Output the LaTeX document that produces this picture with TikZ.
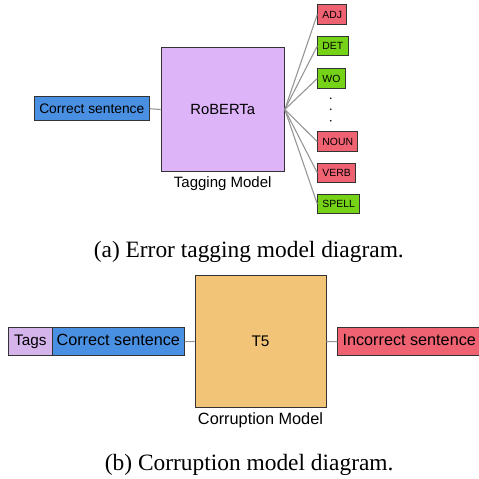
\documentclass[tikz,border=0pt]{standalone}
\usepackage{fontspec}
\setmainfont{Liberation Serif}
\setsansfont{Liberation Sans}

\definecolor{boxblue}{RGB}{74,144,226}
\definecolor{boxpurple}{RGB}{221,180,248}
\definecolor{tagspurple}{RGB}{213,180,236}
\definecolor{boxorange}{RGB}{242,196,120}
\definecolor{tagred}{RGB}{238,98,114}
\definecolor{taggreen}{RGB}{118,210,22}
\definecolor{edgegray}{RGB}{51,51,51}
\definecolor{linkgray}{RGB}{150,150,150}

\tikzset{every picture/.style={line width=0.9pt}}
\tikzset{
  box/.style={draw=edgegray, inner sep=0pt, font=\sffamily},
  sentbox/.style={box, minimum height=28pt, text height=0.72em, text depth=0em},
  tagbox/.style={draw=edgegray, anchor=west, inner xsep=4.7pt, inner ysep=0pt,
    minimum height=19.6pt, font=\sffamily\fontsize{10.4}{12}\selectfont},
  lbl/.style={font=\sffamily\fontsize{15}{18}\selectfont},
  link/.style={draw=linkgray, line width=1.1pt},
  capt/.style={font=\fontsize{23.4}{28}\selectfont}
}

\begin{document}
\begin{tikzpicture}[x=1pt,y=1pt,yscale=-1,xscale=1]
\useasboundingbox (0,0) rectangle (479,479);

% (a) tagging model
\node [box, fill=boxblue, minimum width=115pt, minimum height=24pt,
  font=\sffamily\fontsize{13.8}{16}\selectfont] (cs1) at (91.8,108.7) {Correct sentence};
\node [box, fill=boxpurple, minimum width=123.3pt, minimum height=124.4pt,
  font=\sffamily\fontsize{14.8}{18}\selectfont] (roberta) at (222.7,109.5) {RoBERTa};
\node [lbl] (tagging) at (222.7,183.3) {Tagging Model};

% Tags
\node [tagbox, fill=tagred] (adj) at (317.3,14.5) {ADJ};
\node [tagbox, fill=taggreen] (det) at (317.3,46) {DET};
\node [tagbox, fill=taggreen] (wo) at (317.3,78.5) {WO};
\node [tagbox, fill=tagred] (noun) at (317.3,141.7) {NOUN};
\node [tagbox, fill=tagred] (verb) at (317.3,172.8) {VERB};
\node [tagbox, fill=taggreen] (spell) at (317.3,204) {SPELL};
\foreach \y in {98.3,109.3,120.7}
  \fill (330.7,\y) circle [radius=0.9];

% Connections
\draw [link] (cs1.east) -- (roberta.west);
\foreach \t in {adj,det,wo,noun,verb,spell}
  \draw [link] (roberta.east) -- (\t.west);

\node [capt] (capa) at (248.8,252) {(a) Error tagging model diagram.};

% (b) corruption model
\node [sentbox, fill=tagspurple, minimum width=44pt,
  font=\sffamily\fontsize{15.3}{18}\selectfont] (tags) at (30.3,341.7) {Tags};
\node [sentbox, fill=boxblue, minimum width=132pt,
  font=\sffamily\fontsize{16.2}{19}\selectfont] (cs2) at (118.3,341.7) {Correct sentence};
\node [box, fill=boxorange, minimum width=131pt, minimum height=131.6pt,
  font=\sffamily\fontsize{15.4}{18}\selectfont] (t5) at (260.5,341.5) {T5};
\node [lbl, font=\sffamily\fontsize{16.3}{19}\selectfont] (corruption) at (260.5,420.7) {Corruption Model};
\node [sentbox, fill=tagred, anchor=west, minimum width=143pt,
  font=\sffamily\fontsize{16.2}{19}\selectfont] (incorrect) at (337.3,341.7) {Incorrect sentence};

% Connections
\draw [link] (cs2.east) -- (t5.west);
\draw [link] (t5.east) -- (incorrect.west);

\node [capt] (capb) at (249.2,465.3) {(b) Corruption model diagram.};

\end{tikzpicture}
\end{document}
